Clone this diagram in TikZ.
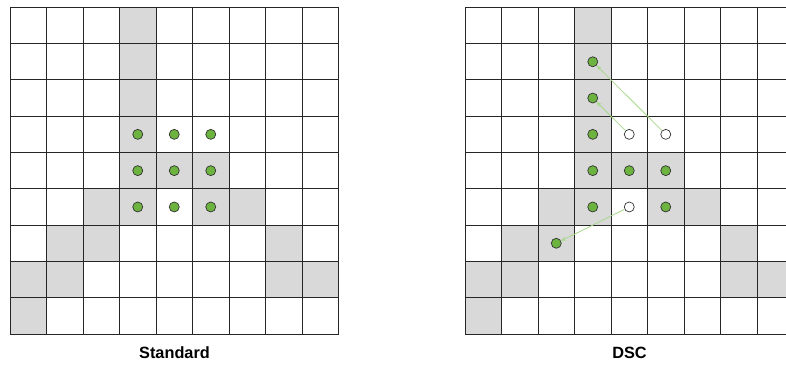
\documentclass[tikz,border=0pt]{standalone}
\usepackage{fontspec}
\setmainfont{Liberation Sans}
\usetikzlibrary{arrows.meta}
\definecolor{cellgray}{HTML}{D9D9D9}
\definecolor{dotgreen}{HTML}{6DB33F}
\definecolor{arrowgreen}{HTML}{A8D88A}
\tikzset{
  gridline/.style={draw=black!85, line width=0.9pt},
  graycell/.style={fill=cellgray},
  dotfull/.style={circle, draw=black!80, fill=dotgreen, minimum size=10pt, inner sep=0pt, line width=0.7pt},
  dothole/.style={circle, draw=black!80, fill=white, minimum size=10pt, inner sep=0pt, line width=0.7pt},
  conn/.style={draw=arrowgreen, line width=0.8pt, -{Stealth[length=5pt,width=4pt]}},
  lbl/.style={font=\fontsize{16.3}{18}\selectfont\bfseries, inner sep=0pt}
}
\newcommand{\cw}{36.5}
\newcommand{\ch}{36.3}
\newcommand{\oy}{7.3}
\begin{document}
\begin{tikzpicture}[x=1pt,y=-1pt]
\path[use as bounding box] (0,0) rectangle (786,365);
\clip (0,0) rectangle (786,365);
\foreach \ox in {10,465}{
  \foreach \c/\r in {3/0,3/1,3/2,3/3,3/4,4/4,5/4,2/5,3/5,5/5,6/5,1/6,2/6,7/6,0/7,1/7,7/7,8/7,0/8}
    \path[graycell] (\ox+\c*\cw,\oy+\r*\ch) rectangle ++(\cw,\ch);
  \foreach \i in {0,...,9}{
    \draw[gridline] (\ox+\i*\cw,\oy) -- ++(0,9*\ch);
    \draw[gridline] (\ox,\oy+\i*\ch) -- ++(9*\cw,0);
  }
}
% Standard dots
\foreach \r in {3,4,5}{
  \foreach \c in {3,4,5}{
    \node[dotfull] (l\r\c) at (10+\c*\cw+0.5*\cw,\oy+\r*\ch+0.5*\ch) {};
  }
}
% DSC dots
\foreach \r/\c in {1/3,2/3,3/3,4/3,4/4,4/5,5/3,5/5,6/2}
  \node[dotfull] (r\r\c) at (465+\c*\cw+0.5*\cw,\oy+\r*\ch+0.5*\ch) {};
\foreach \r/\c in {3/4,3/5,5/4}
  \node[dothole] (r\r\c) at (465+\c*\cw+0.5*\cw,\oy+\r*\ch+0.5*\ch) {};
\draw[conn] (r34) -- (r23);
\draw[conn] (r35) -- (r13);
\draw[conn] (r54) -- (r62);
\node[lbl] (stdlabel) at (174.5,352.5) {Standard};
\node[lbl] (dsclabel) at (629.5,352.5) {DSC};
\end{tikzpicture}
\end{document}
